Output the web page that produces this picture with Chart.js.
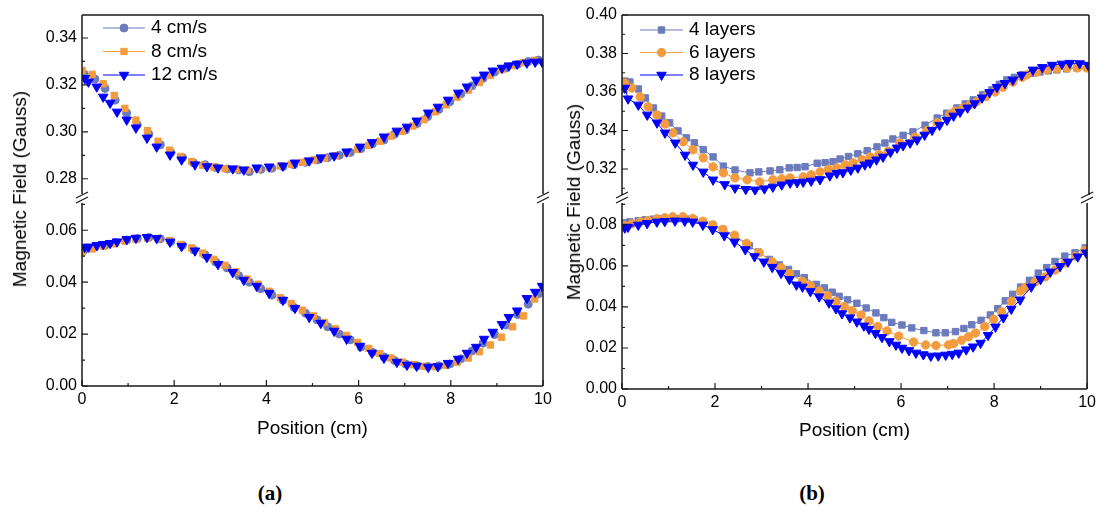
<!DOCTYPE html>
<html>
<head>
<meta charset="utf-8">
<script src="https://cdn.jsdelivr.net/npm/chart.js@4.4.1/dist/chart.umd.min.js"></script>
<style>
html, body { margin: 0; padding: 0; background: #fff; }
body { width: 1100px; height: 517px; position: relative; overflow: hidden; font-family: "Liberation Sans", Arial, sans-serif; }
.box { position: absolute; }
.ytitle { position: absolute; font-size: 19px; white-space: nowrap; color: #000; transform: translate(-50%, -50%) rotate(-90deg); }
.panel { position: absolute; font-family: "Liberation Serif", "Times New Roman", serif; font-weight: bold; font-size: 21px; transform: translate(-50%, -50%); }
</style>
</head>
<body>
<div class="box" style="left:0;top:-10px;width:560px;height:230px"><canvas id="aTop"></canvas></div>
<div class="box" style="left:0;top:180px;width:560px;height:265px"><canvas id="aBot"></canvas></div>
<div class="box" style="left:560px;top:-10px;width:540px;height:230px"><canvas id="bTop"></canvas></div>
<div class="box" style="left:560px;top:180px;width:540px;height:265px"><canvas id="bBot"></canvas></div>
<div class="ytitle" style="left:20px;top:189px">Magnetic Field (Gauss)</div>
<div class="ytitle" style="left:574px;top:202px">Magnetic Field (Gauss)</div>
<div class="panel" style="left:270px;top:493px">(a)</div>
<div class="panel" style="left:812px;top:493px">(b)</div>
<script>
// ---- panel (a): scan speed ----
var aLabels = ['4 cm/s', '8 cm/s', '12 cm/s'];

var a4X = [0.05,0.28,0.5,0.72,0.97,1.2,1.45,1.7,1.93,2.18,2.42,2.67,2.9,3.15,3.4,3.63,3.88,4.12,4.36,4.6,4.85,5.1,5.33,5.58,5.82,6.05,6.3,6.55,6.78,7.02,7.27,7.5,7.74,7.98,8.22,8.46,8.7,8.95,9.2,9.45,9.68,9.9];
var a4Top = [0.3245,0.3225,0.3185,0.3135,0.3080,0.3030,0.2990,0.2945,0.2912,0.2890,0.2868,0.2860,0.2848,0.2842,0.2838,0.2830,0.2840,0.2845,0.2852,0.2860,0.2870,0.2880,0.2890,0.2900,0.2912,0.2928,0.2948,0.2965,0.2990,0.3008,0.3035,0.3065,0.3095,0.3128,0.3162,0.3196,0.3228,0.3255,0.3272,0.3288,0.3300,0.3306];
var a4Bot = [0.0525,0.0535,0.0542,0.0552,0.0562,0.0568,0.0572,0.0567,0.0557,0.0542,0.0525,0.0505,0.0478,0.0455,0.0425,0.0400,0.0375,0.0350,0.0330,0.0302,0.0280,0.0255,0.0228,0.0200,0.0178,0.0150,0.0130,0.0112,0.0098,0.0085,0.0078,0.0075,0.0078,0.0085,0.0105,0.0135,0.0165,0.0198,0.0235,0.0275,0.0315,0.0355];

var a8X = [0,0.22,0.46,0.7,0.93,1.17,1.42,1.65,1.9,2.14,2.38,2.62,2.86,3.1,3.34,3.58,3.82,4.06,4.3,4.54,4.78,5.02,5.26,5.5,5.74,5.98,6.22,6.46,6.7,6.94,7.18,7.42,7.66,7.9,8.14,8.38,8.62,8.86,9.1,9.34,9.58,9.82];
var a8Top = [0.3262,0.3245,0.3205,0.3155,0.3100,0.3050,0.3005,0.2960,0.2922,0.2895,0.2873,0.2858,0.2850,0.2843,0.2840,0.2838,0.2842,0.2848,0.2855,0.2862,0.2870,0.2880,0.2888,0.2898,0.2910,0.2925,0.2942,0.2960,0.2982,0.3002,0.3025,0.3052,0.3085,0.3115,0.3148,0.3178,0.3210,0.3240,0.3265,0.3282,0.3295,0.3305];
var a8Bot = [0.0515,0.0528,0.0538,0.0548,0.0558,0.0565,0.0570,0.0568,0.0560,0.0545,0.0532,0.0512,0.0488,0.0465,0.0440,0.0412,0.0392,0.0365,0.0340,0.0318,0.0292,0.0270,0.0245,0.0220,0.0195,0.0168,0.0145,0.0125,0.0108,0.0092,0.0082,0.0076,0.0074,0.0080,0.0092,0.0108,0.0132,0.0158,0.0188,0.0228,0.0270,0.0335];

var a12X = [0.06,0.14,0.32,0.46,0.61,0.76,0.97,1.17,1.41,1.62,1.91,2.16,2.45,2.71,2.95,3.27,3.51,3.79,4.06,4.36,4.62,4.93,5.18,5.47,5.74,6.03,6.29,6.55,6.83,7.05,7.26,7.51,7.72,7.94,8.16,8.35,8.55,8.72,8.91,9.11,9.26,9.44,9.65,9.83,9.98];
var a12Top = [0.3228,0.3213,0.3192,0.3149,0.3123,0.3085,0.3051,0.3017,0.2974,0.2936,0.2902,0.2881,0.2860,0.2852,0.2847,0.2843,0.2838,0.2847,0.2851,0.2855,0.2868,0.2877,0.2890,0.2898,0.2915,0.2936,0.2955,0.2979,0.3004,0.3021,0.3047,0.3081,0.3106,0.3136,0.3166,0.3192,0.3221,0.3243,0.3260,0.3272,0.3282,0.3289,0.3294,0.3298,0.3298];
var a12Bot = [0.0535,0.0536,0.0542,0.0546,0.0550,0.0556,0.0565,0.0570,0.0573,0.0569,0.0555,0.0538,0.0521,0.0496,0.0469,0.0438,0.0408,0.0385,0.0358,0.0331,0.0300,0.0265,0.0242,0.0212,0.0181,0.0154,0.0127,0.0108,0.0092,0.0081,0.0077,0.0073,0.0075,0.0088,0.0104,0.0127,0.0150,0.0181,0.0208,0.0238,0.0265,0.0290,0.0338,0.0362,0.0385];

// ---- panel (b): number of layers ----
var bLabels = ['4 layers', '6 layers', '8 layers'];

var b4X = [0.06,0.17,0.35,0.5,0.67,0.85,1.02,1.2,1.38,1.55,1.74,1.95,2.17,2.42,2.74,2.93,3.17,3.38,3.58,3.75,3.92,4.18,4.35,4.52,4.67,4.85,5.05,5.25,5.46,5.63,5.8,6.02,6.23,6.49,6.75,6.95,7.17,7.35,7.52,7.72,7.92,8.08,8.24,8.4,8.57,8.76,8.95,9.13,9.31,9.52,9.74,9.96];
var b4Top = [0.3657,0.3652,0.3616,0.3569,0.3517,0.3475,0.3440,0.3398,0.3362,0.3336,0.3300,0.3263,0.3215,0.3195,0.3180,0.3185,0.3190,0.3196,0.3206,0.3208,0.3212,0.3230,0.3233,0.3238,0.3252,0.3265,0.3279,0.3295,0.3315,0.3335,0.3356,0.3375,0.3393,0.3428,0.3465,0.3490,0.3517,0.3538,0.3559,0.3585,0.3611,0.3640,0.3663,0.3676,0.3689,0.3697,0.3704,0.3710,0.3715,0.3720,0.3725,0.3725];
var b4Bot = [0.0810,0.0815,0.0820,0.0825,0.0828,0.0830,0.0830,0.0830,0.0828,0.0825,0.0815,0.0800,0.0778,0.0745,0.0698,0.0668,0.0632,0.0605,0.0583,0.0562,0.0543,0.0510,0.0493,0.0472,0.0452,0.0435,0.0418,0.0395,0.0371,0.0348,0.0325,0.0312,0.0298,0.0285,0.0274,0.0274,0.0280,0.0295,0.0313,0.0335,0.0361,0.0392,0.0430,0.0462,0.0497,0.0530,0.0565,0.0592,0.0622,0.0648,0.0664,0.0688];

var b6X = [0.06,0.21,0.39,0.56,0.75,0.92,1.09,1.31,1.52,1.74,1.95,2.17,2.42,2.68,2.95,3.23,3.42,3.6,3.88,4.05,4.24,4.42,4.6,4.78,4.95,5.14,5.31,5.5,5.7,5.95,6.27,6.53,6.75,7.02,7.13,7.3,7.45,7.6,7.8,7.99,8.16,8.37,8.57,8.67,8.88,9.1,9.31,9.53,9.75,9.95];
var b6Top = [0.3647,0.3621,0.3574,0.3523,0.3481,0.3434,0.3388,0.3341,0.3300,0.3258,0.3211,0.3180,0.3154,0.3144,0.3133,0.3144,0.3149,0.3154,0.3159,0.3170,0.3185,0.3198,0.3206,0.3221,0.3232,0.3248,0.3263,0.3275,0.3292,0.3336,0.3365,0.3400,0.3440,0.3485,0.3500,0.3518,0.3533,0.3550,0.3577,0.3600,0.3625,0.3652,0.3677,0.3689,0.3703,0.3715,0.3720,0.3725,0.3725,0.3725];
var b6Bot = [0.0796,0.0805,0.0815,0.0822,0.0830,0.0835,0.0840,0.0840,0.0832,0.0818,0.0800,0.0778,0.0750,0.0710,0.0665,0.0620,0.0592,0.0563,0.0525,0.0505,0.0478,0.0455,0.0428,0.0402,0.0382,0.0361,0.0332,0.0305,0.0283,0.0258,0.0229,0.0215,0.0212,0.0215,0.0222,0.0238,0.0255,0.0273,0.0305,0.0340,0.0376,0.0428,0.0478,0.0495,0.0522,0.0547,0.0580,0.0615,0.0648,0.0676];

var b8X = [0.06,0.13,0.35,0.54,0.75,0.92,1.14,1.35,1.52,1.74,1.95,2.2,2.42,2.65,2.85,3.05,3.23,3.42,3.6,3.75,3.88,4.05,4.24,4.45,4.6,4.73,4.9,5.05,5.2,5.31,5.45,5.59,5.75,5.89,6.02,6.17,6.32,6.48,6.64,6.8,6.96,7.1,7.24,7.4,7.55,7.71,7.87,8.03,8.2,8.37,8.56,8.8,9.0,9.21,9.42,9.59,9.8,9.98];
var b8Top = [0.3621,0.3565,0.3533,0.3481,0.3440,0.3388,0.3336,0.3273,0.3221,0.3185,0.3144,0.3120,0.3102,0.3095,0.3092,0.3098,0.3107,0.3118,0.3128,0.3130,0.3133,0.3138,0.3146,0.3165,0.3178,0.3182,0.3195,0.3206,0.3222,0.3232,0.3248,0.3263,0.3288,0.3310,0.3322,0.3336,0.3352,0.3377,0.3402,0.3428,0.3454,0.3476,0.3496,0.3518,0.3540,0.3570,0.3598,0.3625,0.3645,0.3663,0.3688,0.3715,0.3728,0.3740,0.3746,0.3750,0.3748,0.3740];
var b8Bot = [0.0786,0.0790,0.0800,0.0808,0.0815,0.0818,0.0820,0.0819,0.0815,0.0800,0.0778,0.0748,0.0717,0.0680,0.0646,0.0620,0.0594,0.0565,0.0535,0.0508,0.0498,0.0476,0.0450,0.0420,0.0392,0.0368,0.0348,0.0328,0.0308,0.0292,0.0272,0.0252,0.0232,0.0215,0.0200,0.0188,0.0176,0.0168,0.0161,0.0162,0.0166,0.0170,0.0176,0.0192,0.0206,0.0224,0.0262,0.0303,0.0348,0.0390,0.0435,0.0498,0.0535,0.0571,0.0598,0.0620,0.0645,0.0664];

var slate = '#6b7bbd';
var orange = '#f39b3e';
var blue = '#0000ff';
var fontFam = '"Liberation Sans", Arial, sans-serif';

Chart.defaults.font.family = fontFam;
Chart.defaults.font.size = 16;
Chart.defaults.color = '#000';

function pts(xs, ys) {
    return xs.map(function (x, i) { return { x: x, y: ys[i] }; });
}

// axis frame, inward ticks and break marks
var framePlugin = {
    id: 'frame',
    afterDraw: function (chart, args, o) {
        var ctx = chart.ctx, a = chart.chartArea;
        var ys = chart.scales.y, xs = chart.scales.x;
        ctx.save();
        ctx.strokeStyle = '#1a1a1a';
        ctx.lineWidth = 1.5;
        ctx.beginPath();
        ctx.moveTo(a.left, a.top); ctx.lineTo(a.left, a.bottom);
        ctx.moveTo(a.right, a.top); ctx.lineTo(a.right, a.bottom);
        if (o.top) { ctx.moveTo(a.left, a.top); ctx.lineTo(a.right, a.top); }
        if (o.bottom) { ctx.moveTo(a.left, a.bottom); ctx.lineTo(a.right, a.bottom); }
        ctx.stroke();

        ctx.lineWidth = 1.2;
        ctx.beginPath();
        for (var i = Math.ceil(ys.min / 0.01 - 1e-6); i * 0.01 <= ys.max + 1e-9; i++) {
            var py = ys.getPixelForValue(i * 0.01);
            ctx.moveTo(a.left, py); ctx.lineTo(a.left + (i % 2 === 0 ? 6 : 3), py);
        }
        if (o.bottom) {
            for (var k = 0; k <= 10; k++) {
                var px = xs.getPixelForValue(k);
                ctx.moveTo(px, a.bottom); ctx.lineTo(px, a.bottom - (k % 2 === 0 ? 6 : 3));
            }
        }
        ctx.stroke();

        if (o.breaks) {
            ctx.lineWidth = 1.3;
            ctx.beginPath();
            [a.left, a.right].forEach(function (bx) {
                [-8, -3].forEach(function (dy) {
                    ctx.moveTo(bx - 6, a.top + dy + 3);
                    ctx.lineTo(bx + 6, a.top + dy - 3);
                });
            });
            ctx.stroke();
        }
        ctx.restore();
    }
};

// legend with line + marker like the original
var legendPlugin = {
    id: 'lineLegend',
    afterDraw: function (chart, args, o) {
        if (!o.show) return;
        var ctx = chart.ctx;
        chart.data.datasets.forEach(function (ds, i) {
            var yy = o.y + i * o.dy;
            ctx.save();
            ctx.strokeStyle = ds.borderColor;
            ctx.fillStyle = ds.backgroundColor;
            ctx.lineWidth = 1;
            ctx.beginPath();
            ctx.moveTo(o.x, yy); ctx.lineTo(o.x + o.len, yy);
            ctx.stroke();
            Chart.helpers.drawPoint(ctx, {
                pointStyle: ds.pointStyle, radius: ds.pointRadius,
                rotation: ds.pointRotation || 0, borderWidth: 1
            }, o.x + o.len / 2, yy);
            ctx.fillStyle = '#000';
            ctx.font = '19px ' + fontFam;
            ctx.textBaseline = 'middle';
            ctx.fillText(ds.label, o.x + o.len + 6, yy);
            ctx.restore();
        });
    }
};

function makeSets(labels, styles, xsList, ysList, line) {
    return labels.map(function (lab, i) {
        var s = styles[i];
        return {
            label: lab,
            data: pts(xsList[i], ysList[i]),
            showLine: line,
            borderWidth: 1,
            borderColor: s.color,
            backgroundColor: s.color,
            pointStyle: s.style,
            pointRadius: s.r,
            pointRotation: s.rot,
            pointBorderWidth: 1,
            tension: 0,
            order: 2 - i
        };
    });
}

function makeChart(id, datasets, yMin, yMax, yWidth, pad, isBottom, xHeight, titlePad, frameOpts, legendOpts) {
    return new Chart(document.getElementById(id), {
        type: 'scatter',
        data: { datasets: datasets },
        plugins: [framePlugin, legendPlugin],
        options: {
            responsive: true,
            maintainAspectRatio: false,
            animation: false,
            devicePixelRatio: 1,
            events: [],
            layout: { padding: pad },
            plugins: {
                legend: { display: false },
                tooltip: { enabled: false },
                frame: frameOpts,
                lineLegend: legendOpts
            },
            scales: {
                x: {
                    type: 'linear', min: 0, max: 10, display: isBottom,
                    grid: { display: false, drawTicks: false },
                    border: { display: false },
                    ticks: { stepSize: 2, padding: 4 },
                    title: { display: true, text: 'Position (cm)', font: { size: 19 }, padding: { top: 0, bottom: titlePad } },
                    afterFit: function (s) { if (isBottom) s.height = xHeight; }
                },
                y: {
                    type: 'linear', min: yMin, max: yMax,
                    grid: { display: false, drawTicks: false },
                    border: { display: false },
                    ticks: {
                        stepSize: 0.02, includeBounds: false, padding: 5,
                        callback: function (v) { return v.toFixed(2); }
                    },
                    afterFit: function (s) { s.width = yWidth; }
                }
            }
        }
    });
}

var aStyles = [
    { color: slate, style: 'circle', r: 4, rot: 0 },
    { color: orange, style: 'rect', r: 4.5, rot: 0 },
    { color: blue, style: 'triangle', r: 5.5, rot: 180 }
];
var bStyles = [
    { color: slate, style: 'rect', r: 4.5, rot: 0 },
    { color: orange, style: 'circle', r: 4.2, rot: 0 },
    { color: blue, style: 'triangle', r: 5.5, rot: 180 }
];

makeChart('aTop', makeSets(aLabels, aStyles, [a4X, a8X, a12X], [a4Top, a8Top, a12Top], false),
    0.2735, 0.3498, 82, { top: 25, right: 17, bottom: 26, left: 0 }, false, 0, 0,
    { top: true }, { show: true, x: 103, y: 38, dy: 23.5, len: 42 });
makeChart('aBot', makeSets(aLabels, aStyles, [a4X, a8X, a12X], [a4Bot, a8Bot, a12Bot], false),
    0, 0.0705, 82, { top: 23, right: 17, bottom: 0, left: 0 }, true, 59, 5,
    { bottom: true, breaks: true }, { show: false });
makeChart('bTop', makeSets(bLabels, bStyles, [b4X, b6X, b8X], [b4Top, b6Top, b8Top], true),
    0.3065, 0.40, 62, { top: 25, right: 11, bottom: 25, left: 0 }, false, 0, 0,
    { top: true }, { show: true, x: 80, y: 40, dy: 22.5, len: 43 });
makeChart('bBot', makeSets(bLabels, bStyles, [b4X, b6X, b8X], [b4Bot, b6Bot, b8Bot], true),
    0, 0.0907, 62, { top: 23, right: 11, bottom: 0, left: 0 }, true, 56, 3,
    { bottom: true, breaks: true }, { show: false });
</script>
</body>
</html>
